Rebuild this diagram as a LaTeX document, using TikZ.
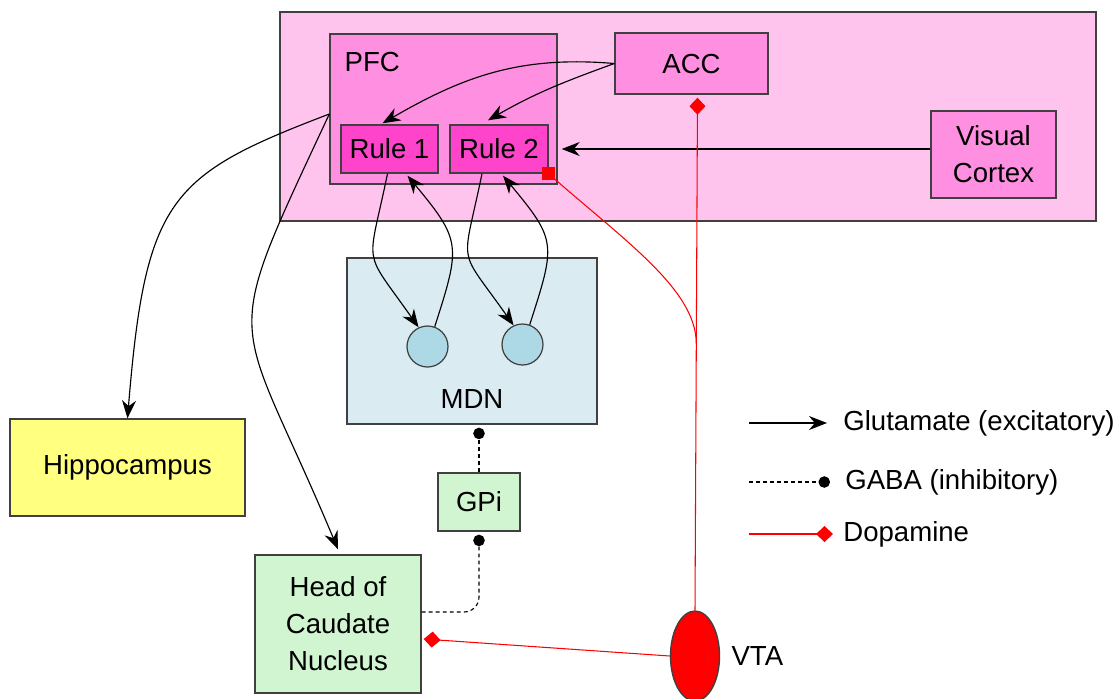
\documentclass[tikz,border=0pt]{standalone}
\usepackage{fontspec}
\setmainfont{Liberation Sans}
\usetikzlibrary{arrows.meta,positioning,calc,shapes.geometric}
\definecolor{ctxpink}{HTML}{FFC4EE}
\definecolor{areapink}{HTML}{FF8FE0}
\definecolor{rulepink}{HTML}{FF44CC}
\definecolor{mdnblue}{HTML}{DAECF2}
\definecolor{cellblue}{HTML}{ADD8E6}
\definecolor{hipyellow}{HTML}{FFFF80}
\definecolor{bggreen}{HTML}{D0F5D0}
\definecolor{dared}{HTML}{FF0000}

\begin{document}
\begin{tikzpicture}[
  x=0.02cm,y=-0.02cm,
  font=\fontsize{15.7}{21}\selectfont,
  area/.style={draw=black!75,line width=0.8pt,align=center,inner sep=0pt},
  cortexarea/.style={area,fill=areapink},
  rulebox/.style={area,fill=rulepink,minimum height=0.96cm},
  cell/.style={circle,draw=black!75,line width=0.7pt,fill=cellblue,minimum size=0.82cm,inner sep=0pt},
  glu/.style={-{Stealth[length=3.6mm,width=2.8mm]},line width=0.65pt},
  gaba/.style={-{Circle[length=2.3mm]},line width=0.65pt,dash pattern=on 2.2pt off 1.8pt},
  dopa/.style={line width=0.6pt,dared},
  dopatip/.style={dopa,-{Diamond[length=3.4mm,width=3.2mm]}},
  legtext/.style={anchor=west,inner sep=0pt}]
  \useasboundingbox (0,0) rectangle (1119,698);
  % cortical areas
  \node[area,fill=ctxpink,minimum width=16.32cm,minimum height=4.18cm] (ctx) at (688,116.5) {};
  \node[cortexarea,minimum width=4.54cm,minimum height=3.0cm] (pfc) at (443.5,109) {};
  \node[legtext] (pfclbl) at ($(pfc.north west)+(15,29)$) {PFC};
  \node[cortexarea,minimum width=3.06cm,minimum height=1.22cm] (acc) at (691.5,63.5) {ACC};
  \node[cortexarea,minimum width=2.5cm,minimum height=1.74cm] (vis) at (993.5,154.5) {Visual\\Cortex};
  \node[rulebox,minimum width=1.94cm] (r1) at (389.5,149) {Rule 1};
  \node[rulebox,minimum width=1.96cm] (r2) at (499,149) {Rule 2};
  % thalamus
  \node[area,fill=mdnblue,minimum width=5.0cm,minimum height=3.32cm] (mdn) at (472,341) {};
  \node (mdnlbl) at ($(mdn.south)+(0,-26)$) {MDN};
  \node[cell] (n1) at (427.5,346.5) {};
  \node[cell] (n2) at (522.5,344.5) {};
  % subcortical targets
  \node[area,fill=hipyellow,minimum width=4.7cm,minimum height=1.94cm] (hip) at (127.5,467.5) {Hippocampus};
  \node[area,fill=bggreen,minimum width=1.64cm,minimum height=1.16cm] (gpi) at (479,502) {GPi};
  \node[area,fill=bggreen,minimum width=3.32cm,minimum height=2.76cm] (caud) at (338,624) {Head of\\Caudate\\Nucleus};
  \node[ellipse,draw=black!75,line width=0.8pt,fill=dared,minimum width=0.98cm,minimum height=1.8cm,inner sep=0pt] (vta) at (695,656) {};
  \node[right=0.22cm of vta,inner sep=0pt] (vtalbl) {VTA};

  % glutamate
  \coordinate (pfcout) at ($(pfc.west)+(0,5)$);
  \draw[glu] (acc.west) .. controls +(-94,-8) and +(81,-47) .. ($(r1.north)+(-7,-1)$);
  \draw[glu] (acc.west) .. controls +(-51,18.5) and +(47,-27) .. ($(r2.north)+(-11,-4)$);
  \draw[glu] (vis.west |- r2.east) -- ($(r2.east)+(13,0)$);
  \draw[glu] (pfcout) .. controls +(-160,61) and +(18,-220) .. (hip.north);
  \draw[glu] (pfcout) .. controls +(-113,242) and +(-103,-246) .. ($(caud.north)+(0,-5)$);
  % rule <-> MDN loops
  \draw[glu] ($(r1.south)+(-2,0)$) .. controls +(-20,97) and +(-57,-81) .. (n1.115);
  \draw[glu] (n1.70) .. controls +(26,-81) and +(54,65) .. ($(r1.south)+(18,2)$);
  \draw[glu] ($(r2.south)+(-17,0)$) .. controls +(-20,97) and +(-57,-81) .. (n2.115);
  \draw[glu] (n2.70) .. controls +(26,-81) and +(54,65) .. ($(r2.south)+(4,2)$);

  % GABA
  \draw[gaba] (gpi.north) -- ($(gpi.north |- mdn.south)+(0,3)$);
  \draw[gaba,rounded corners=0.3cm] ($(caud.east)+(0,-12)$) -| ($(gpi.south)+(0,3)$);

  % dopamine
  \coordinate (accin) at ($(acc.south)+(6,3)$);
  \coordinate (junc) at ($(vta.north)!0.52!(accin)$);
  \node[fill=dared,minimum size=0.25cm,inner sep=0pt] (sq) at (r2.south east) {};
  \draw[dopatip] (vta.north) -- (accin);
  \draw[dopa] (junc) .. controls +(0,-55) and +(73,65) .. (sq.center);
  \draw[dopatip] (vta.west) -- ($(caud.east)+(2,15)$);

  % legend
  \coordinate (k1) at (749,423);
  \coordinate (k2) at (749,482);
  \coordinate (k3) at (749,534);
  \node[legtext] (lgglu) at (843,423) {Glutamate (excitatory)};
  \node[legtext] (lggaba) at (845,482) {GABA (inhibitory)};
  \node[legtext] (lgdopa) at (843,534) {Dopamine};
  \draw[glu,shorten >=0.32cm] (k1) -- (k1 -| lgglu.west);
  \draw[gaba,shorten >=0.3cm] (k2) -- (k2 -| lggaba.west);
  \draw[dopatip,shorten >=0.2cm] (k3) -- (k3 -| lgdopa.west);
\end{tikzpicture}
\end{document}
